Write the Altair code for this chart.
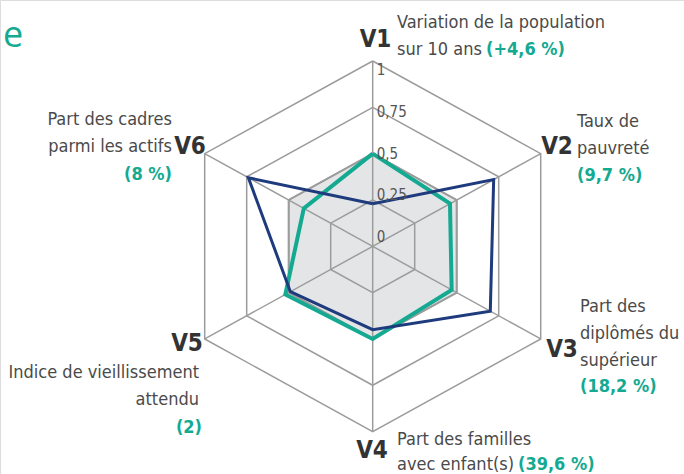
import math
import altair as alt
import pandas as pd

# ---- data ----
axes = ["V1", "V2", "V3", "V4", "V5", "V6"]
territoire = [0.50, 0.46, 0.47, 0.50, 0.52, 0.41]   # teal series
comparaison = [0.23, 0.72, 0.70, 0.45, 0.49, 0.74]  # navy series
reference = [0.5, 0.5, 0.5, 0.5, 0.5, 0.5]          # grey filled ring
grid_levels = [0.25, 0.5, 0.75, 1.0]
tick_values = [0, 0.25, 0.5, 0.75, 1]
tick_labels = ["0", "0,25", "0,5", "0,75", "1"]

desc_lines = {
    "V1": ["Variation de la population", "sur 10 ans"],
    "V2": ["Taux de", "pauvreté"],
    "V3": ["Part des", "diplômés du", "supérieur"],
    "V4": ["Part des familles", "avec enfant(s)"],
    "V5": ["Indice de vieillissement", "attendu"],
    "V6": ["Part des cadres", "parmi les actifs"],
}
desc_values = {"V1": "(+4,6 %)", "V2": "(9,7 %)", "V3": "(18,2 %)",
               "V4": "(39,6 %)", "V5": "(2)", "V6": "(8 %)"}

# ---- layout ----
W, H = 684, 474
CX, CY, KX, KY = 372.7, 246.3, 194.0, 185.3
TEAL, NAVY, GRID, FILL = "#14a991", "#1e3b7d", "#9c9c9c", "#e4e5e7"
FONT = "DejaVu Sans Condensed"


def to_data(px, py):
    return (px - CX) / KX, (CY - py) / KY


def polygon(values, name):
    rows = []
    for i in range(7):
        k = i % 6
        th = math.radians(60 * k)
        r = values[k]
        rows.append({"s": name, "o": i, "x": r * math.sin(th), "y": r * math.cos(th)})
    return rows


xs = alt.Scale(domain=[-CX / KX, (W - CX) / KX], nice=False, zero=False)
ys = alt.Scale(domain=[-(H - CY) / KY, CY / KY], nice=False, zero=False)
X = lambda f="x": alt.X(f"{f}:Q", scale=xs, axis=None)
Y = lambda f="y": alt.Y(f"{f}:Q", scale=ys, axis=None)

# grid rings
ring_rows = []
for lv in grid_levels:
    for r in polygon([lv] * 6, f"g{lv}"):
        ring_rows.append(r)
rings = alt.Chart(pd.DataFrame(ring_rows)).mark_line(
    color=GRID, strokeWidth=1.5
).encode(x=X(), y=Y(), order="o:Q", detail="s:N")

# spokes
spoke_rows = []
for k in range(6):
    th = math.radians(60 * k)
    spoke_rows.append({"x": 0, "y": 0, "x2": math.sin(th), "y2": math.cos(th)})
spokes = alt.Chart(pd.DataFrame(spoke_rows)).mark_rule(
    color=GRID, strokeWidth=1.5
).encode(x=X(), y=Y(), x2="x2:Q", y2="y2:Q")

fill = alt.Chart(pd.DataFrame(polygon(reference, "ref"))).mark_line(
    fill=FILL, stroke=GRID, strokeWidth=2
).encode(x=X(), y=Y(), order="o:Q")

teal = alt.Chart(pd.DataFrame(polygon(territoire, "t"))).mark_line(
    color=TEAL, strokeWidth=4, strokeJoin="miter"
).encode(x=X(), y=Y(), order="o:Q")

navy = alt.Chart(pd.DataFrame(polygon(comparaison, "n"))).mark_line(
    color=NAVY, strokeWidth=3, strokeJoin="miter"
).encode(x=X(), y=Y(), order="o:Q")

# tick labels
tick_df = pd.DataFrame({
    "x": [0.0] * 5,
    "y": [0.05 + 0.9 * v for v in tick_values],
    "t": tick_labels,
})
ticks = alt.Chart(tick_df).mark_text(
    align="left", baseline="middle", dx=4, font=FONT, fontSize=15, color="#555555"
).encode(x=X(), y=Y(), text="t:N")

# axis names
vpos = {"V1": (375.5, 40), "V2": (557, 147), "V3": (562, 350),
        "V4": (372, 451), "V5": (187, 344), "V6": (190, 147)}
vrows = []
for a in axes:
    dx_, dy_ = to_data(*vpos[a])
    vrows.append({"x": dx_, "y": dy_, "t": a})
vnames = alt.Chart(pd.DataFrame(vrows)).mark_text(
    align="center", baseline="middle", font=FONT, fontSize=24, fontWeight="bold",
    color="#333333"
).encode(x=X(), y=Y(), text="t:N")

# descriptions (grey) and values (teal)
LH = 27
desc_anchor = {  # (x, first baseline, align)
    "V1": (397, 28, "left"), "V2": (577, 127, "left"), "V3": (580, 312, "left"),
    "V4": (397, 445, "left"), "V5": (199, 378, "right"), "V6": (172, 125, "right"),
}
val_pos = {"V1": (486, 55, "left"), "V2": (577, 181, "left"), "V3": (580, 392, "left"),
           "V4": (518, 470, "left"), "V5": (202, 433, "right"), "V6": (172, 180, "right")}
drows, vrows2 = [], []
for a in axes:
    ax, ay, al = desc_anchor[a]
    lh = 25 if a == "V4" else LH
    for i, line in enumerate(desc_lines[a]):
        dx_, dy_ = to_data(ax, ay + i * lh)
        drows.append({"x": dx_, "y": dy_, "t": line, "al": al})
    px, py, al = val_pos[a]
    dx_, dy_ = to_data(px, py)
    vrows2.append({"x": dx_, "y": dy_, "t": desc_values[a], "al": al})

ddf = pd.DataFrame(drows)
vdf = pd.DataFrame(vrows2)


def txt(df, al, color, weight, size):
    return alt.Chart(df[df.al == al]).mark_text(
        align=al, baseline="alphabetic", font=FONT, fontSize=size,
        color=color, fontWeight=weight
    ).encode(x=X(), y=Y(), text="t:N")


d_left = txt(ddf, "left", "#4a4a4a", "normal", 18)
d_right = txt(ddf, "right", "#4a4a4a", "normal", 18)
v_left = txt(vdf, "left", TEAL, "bold", 18)
v_right = txt(vdf, "right", TEAL, "bold", 18)

tx, ty = to_data(3, 47)
title = alt.Chart(pd.DataFrame({"x": [tx], "y": [ty], "t": ["e"]})).mark_text(
    align="left", baseline="alphabetic", font="Open Sans", fontSize=36, color=TEAL
).encode(x=X(), y=Y(), text="t:N")

chart = alt.layer(
    fill, rings, spokes, teal, navy, ticks, vnames,
    d_left, d_right, v_left, v_right, title
).properties(
    width=W, height=H, padding=0, autosize=alt.AutoSizeParams(type="none")
).configure_view(stroke=None).configure(background="white")

chart.save("out.html", embed_options={"renderer": "svg", "actions": False})
